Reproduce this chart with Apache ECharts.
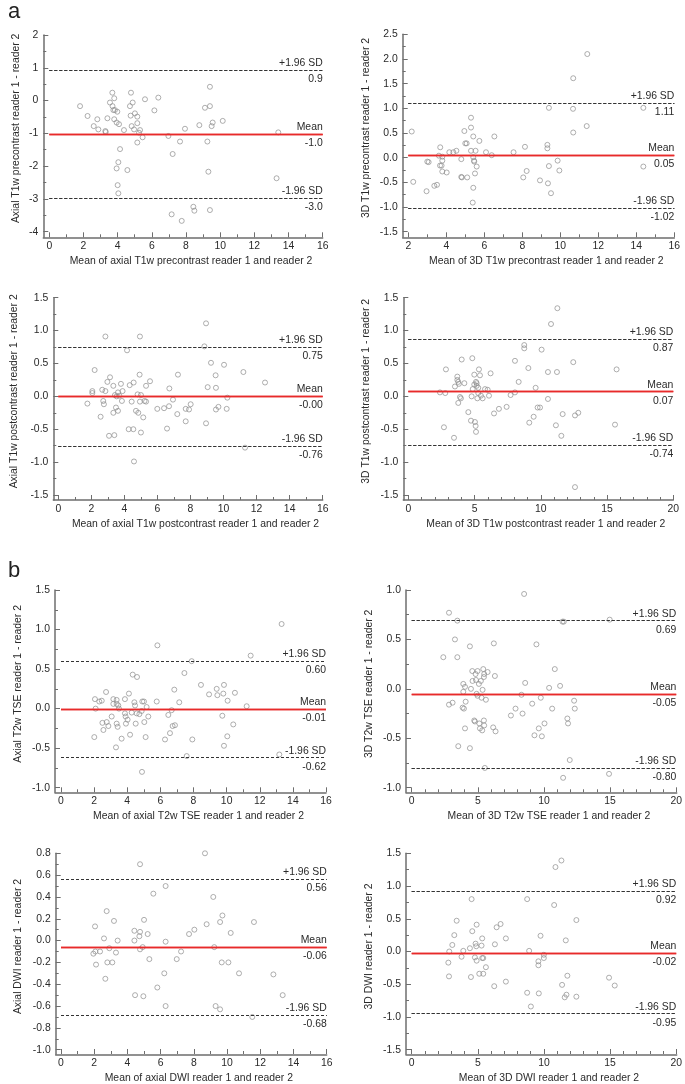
<!DOCTYPE html>
<html><head><meta charset="utf-8">
<script src="https://cdn.jsdelivr.net/npm/echarts@6/dist/echarts.min.js"></script>
<style>html,body{margin:0;padding:0;background:#fff}#c{width:685px;height:1084px}</style>
</head><body><div id="c"></div>
<script>
// ---------- DATA ----------
const p1Points = [[1.8,-0.17],[2.24,-0.47],[2.6,-0.78],[2.81,-0.57],[2.87,-0.88],[3.28,-0.93],[3.3,-0.96],[3.4,-0.54],[3.55,-0.06],[3.69,0.24],[3.7,-0.17],[3.75,-0.29],[3.8,0.07],[3.84,-0.29],[3.98,-0.34],[3.8,-0.57],[3.94,-0.67],[4.08,-0.72],[4.37,-0.9],[4.14,-1.48],[4.04,-1.88],[3.94,-2.07],[4.0,-2.58],[4.04,-2.83],[4.57,-2.12],[4.78,0.24],[4.88,-0.06],[4.72,-0.17],[4.76,-0.46],[5.01,-0.39],[5.15,-0.49],[4.82,-0.78],[4.96,-0.88],[5.15,-0.69],[5.25,-0.98],[5.31,-0.9],[5.15,-1.28],[5.46,-1.12],[5.6,0.04],[6.15,-0.3],[6.38,0.09],[6.97,-1.08],[7.16,-3.47],[7.22,-1.63],[7.65,-1.25],[7.75,-3.67],[7.94,-0.86],[8.43,-3.24],[8.49,-3.36],[8.78,-0.75],[9.11,-0.22],[9.4,-0.17],[9.4,0.42],[9.25,-1.25],[9.31,-2.17],[9.4,-3.34],[9.5,-0.78],[9.56,-0.67],[10.15,-0.62],[13.3,-2.37],[13.4,-0.97]];
const p2Points = [[2.18,0.53],[2.26,-0.49],[3.0,-0.08],[3.07,-0.09],[2.96,-0.68],[3.37,-0.57],[3.51,-0.55],[3.61,0.04],[3.68,0.21],[3.67,-0.16],[3.75,-0.16],[3.79,-0.06],[3.79,0.02],[3.79,-0.28],[4.02,-0.3],[4.16,0.11],[4.37,0.11],[4.53,0.14],[4.79,-0.03],[4.79,-0.39],[4.82,-0.4],[4.95,0.54],[5.0,0.29],[5.07,0.29],[5.1,-0.4],[5.3,0.81],[5.3,0.61],[5.3,0.14],[5.39,-0.91],[5.42,0.43],[5.42,0.01],[5.46,-0.06],[5.47,-0.08],[5.42,-0.61],[5.51,-0.32],[5.54,0.14],[5.6,-0.18],[5.74,0.34],[6.09,0.11],[6.39,0.05],[6.53,0.43],[7.54,0.11],[8.14,0.22],[8.05,-0.4],[8.23,-0.27],[8.93,-0.46],[9.32,0.26],[9.32,0.19],[9.35,-0.52],[9.4,1.01],[9.4,-0.17],[9.51,-0.72],[9.86,-0.06],[9.95,-0.26],[10.68,1.61],[10.67,0.99],[10.68,0.51],[11.39,0.64],[11.42,2.1],[14.37,1.01],[14.37,-0.18]];
const p3Points = [[1.76,-0.11],[2.06,0.08],[2.06,0.05],[2.2,0.4],[2.56,-0.31],[2.66,0.1],[2.72,-0.07],[2.76,-0.12],[2.85,0.08],[2.85,0.91],[2.97,0.22],[3.13,0.29],[3.07,-0.6],[3.33,0.16],[3.33,-0.25],[3.39,-0.59],[3.43,0.02],[3.49,-0.17],[3.53,0.0],[3.61,0.06],[3.61,-0.22],[3.69,0.01],[3.79,0.19],[3.85,-0.07],[3.89,0.08],[4.16,0.7],[4.26,-0.5],[4.32,0.17],[4.44,-0.08],[4.54,-0.5],[4.56,0.21],[4.58,-0.99],[4.7,-0.22],[4.8,0.03],[4.84,-0.25],[4.92,0.33],[4.94,0.91],[4.94,-0.08],[5.0,0.02],[5.0,-0.55],[5.14,-0.32],[5.22,-0.07],[5.31,-0.08],[5.31,0.16],[5.55,0.23],[5.99,-0.19],[6.4,-0.18],[6.58,-0.49],[6.7,-0.15],[6.72,0.12],[6.94,-0.05],[7.2,-0.27],[7.24,0.33],[7.71,-0.38],[7.71,-0.19],[7.91,-0.2],[8.01,-0.12],[8.84,0.76],[8.94,1.11],[8.94,-0.41],[9.04,0.14],[9.24,0.51],[9.52,0.32],[9.54,0.13],[9.54,-0.2],[9.69,-0.16],[10.03,0.48],[10.23,-0.02],[10.19,-0.19],[11.2,0.37],[11.3,-0.78],[12.51,0.21]];
const p4Points = [[2.39,0.06],[2.69,-0.47],[2.79,0.05],[2.84,0.41],[3.45,-0.63],[3.52,0.15],[3.7,0.3],[3.7,0.25],[3.77,0.22],[3.82,0.19],[3.77,-0.1],[3.9,-0.01],[3.97,-0.03],[4.03,0.56],[4.23,0.2],[4.53,-0.24],[4.73,-0.37],[4.78,0.0],[4.83,0.58],[4.86,0.11],[4.98,0.33],[4.98,0.18],[5.03,-0.39],[5.08,-0.45],[5.11,-0.54],[5.11,0.22],[5.16,0.2],[5.16,0.16],[5.21,-0.03],[5.28,0.05],[5.28,0.13],[5.33,0.41],[5.41,0.32],[5.48,0.01],[5.61,-0.03],[5.79,0.11],[5.99,0.1],[6.09,0.01],[6.21,0.35],[6.47,-0.26],[6.84,-0.19],[7.42,-0.16],[7.72,0.02],[8.05,0.54],[8.05,0.06],[8.33,0.22],[8.75,0.78],[8.75,0.73],[9.06,0.43],[9.13,-0.4],[9.46,-0.31],[9.61,0.13],[9.76,-0.17],[9.94,-0.17],[10.06,0.71],[10.54,-0.04],[10.54,0.37],[10.77,1.1],[11.14,-0.44],[11.22,0.37],[11.25,1.34],[11.55,-0.6],[11.65,-0.27],[12.45,0.52],[12.58,-0.29],[12.58,-1.38],[12.83,-0.25],[15.6,-0.43],[15.72,0.41]];
const p5Points = [[2.01,-0.36],[2.05,0.12],[2.09,0.0],[2.31,0.09],[2.46,0.1],[2.5,-0.18],[2.56,-0.27],[2.72,0.21],[2.76,-0.17],[2.86,-0.22],[3.06,-0.1],[3.16,0.12],[3.16,0.06],[3.32,-0.49],[3.36,0.11],[3.36,0.06],[3.36,-0.19],[3.42,-0.23],[3.46,0.04],[3.5,0.0],[3.66,-0.38],[3.86,0.12],[3.86,-0.06],[3.9,-0.1],[3.92,-0.19],[4.02,-0.14],[4.1,0.19],[4.17,-0.33],[4.27,-0.05],[4.33,0.43],[4.43,0.08],[4.47,0.04],[4.51,-0.19],[4.59,0.4],[4.57,-0.06],[4.73,-0.07],[4.87,-0.03],[4.89,-0.8],[4.91,0.09],[5.01,0.09],[5.03,-0.17],[5.11,-0.36],[5.17,0.02],[5.27,-0.1],[5.78,0.09],[5.82,0.8],[6.28,-0.39],[6.48,-0.08],[6.58,-0.31],[6.68,-0.02],[6.74,-0.22],[6.84,0.24],[6.88,-0.21],[7.14,0.08],[7.45,0.45],[7.59,-0.6],[7.89,0.6],[7.93,-0.39],[8.45,0.3],[8.94,0.18],[9.4,0.25],[9.44,0.17],[9.74,-0.09],[9.84,0.3],[9.8,0.19],[9.84,-0.47],[10.06,0.1],[10.04,-0.35],[10.4,-0.2],[10.5,0.2],[11.21,0.03],[11.45,0.67],[13.18,-0.58],[13.32,1.07]];
const p6Points = [[2.39,0.32],[2.82,0.77],[2.82,-0.16],[3.09,-0.14],[3.27,0.5],[3.45,0.32],[3.45,0.69],[3.52,-0.58],[3.85,-0.19],[3.9,-0.03],[3.9,0.05],[3.95,-0.2],[4.03,0.02],[4.08,-0.13],[4.03,-0.4],[4.4,0.43],[4.4,-0.6],[4.48,0.0],[4.58,0.18],[4.6,0.08],[4.73,-0.32],[4.78,-0.33],[4.83,0.15],[4.86,0.09],[4.91,-0.05],[4.98,0.18],[4.98,-0.07],[5.08,0.05],[5.11,-0.35],[5.16,-0.4],[5.23,0.08],[5.28,-0.09],[5.33,-0.42],[5.36,-0.01],[5.41,0.2],[5.46,0.12],[5.46,-0.32],[5.48,-0.37],[5.48,0.15],[5.53,-0.8],[5.61,-0.11],[5.74,0.17],[6.16,-0.39],[6.21,0.46],[6.29,0.13],[6.34,-0.43],[7.5,-0.27],[7.85,-0.2],[8.3,-0.06],[8.38,-0.25],[8.5,0.96],[8.58,0.06],[9.11,-0.15],[9.28,-0.47],[9.43,0.45],[9.61,-0.4],[9.76,-0.09],[9.84,-0.48],[10.04,-0.35],[10.39,0.01],[10.62,-0.2],[10.82,0.2],[11.22,0.03],[11.4,0.68],[11.5,0.68],[11.45,-0.9],[11.77,-0.3],[11.82,-0.35],[11.95,-0.72],[12.28,-0.12],[12.33,-0.2],[14.92,-0.86],[14.97,0.7]];
const p7Points = [[2.05,0.13],[1.95,-0.12],[2.07,-0.1],[2.11,-0.22],[2.35,-0.1],[2.59,0.02],[2.67,-0.35],[2.75,0.27],[2.79,-0.2],[2.91,-0.07],[3.09,-0.2],[3.19,0.18],[3.31,-0.11],[3.41,0.0],[4.42,0.09],[4.42,0.0],[4.46,-0.5],[4.72,0.04],[4.76,0.7],[4.76,0.08],[4.76,-0.08],[4.92,-0.06],[5.0,0.19],[4.96,-0.51],[5.22,0.06],[5.32,-0.17],[5.56,0.43],[5.8,-0.43],[6.22,-0.3],[6.3,0.5],[6.3,-0.01],[6.3,-0.6],[6.97,-0.17],[7.23,-0.1],[7.71,0.06],[8.03,0.1],[8.67,0.8],[8.77,0.15],[9.17,0.4],[9.23,-0.06],[9.31,-0.6],[9.58,-0.63],[9.58,0.17],[9.72,0.23],[9.68,-0.2],[10.08,-0.2],[10.22,0.07],[10.72,-0.3],[11.52,-0.7],[11.62,0.17],[12.79,-0.31],[13.35,-0.5]];
const p8Points = [[2.77,-0.17],[2.82,-0.38],[2.84,0.0],[3.07,0.1],[3.22,0.25],[3.4,0.47],[3.77,-0.08],[3.9,0.01],[4.4,0.05],[4.48,-0.39],[4.53,0.8],[4.58,0.31],[4.78,-0.09],[4.83,0.12],[4.88,0.08],[4.91,0.41],[4.91,-0.14],[5.11,-0.34],[5.28,0.09],[5.33,0.2],[5.33,-0.1],[5.41,-0.1],[5.41,-0.34],[5.61,-0.24],[6.24,-0.53],[6.29,0.11],[6.42,0.37],[6.72,0.42],[7.12,0.2],[7.12,-0.46],[8.73,0.8],[8.73,-0.63],[8.88,0.01],[9.01,-0.84],[9.58,-0.15],[9.58,-0.21],[9.61,-0.64],[9.74,0.24],[9.99,-0.05],[9.99,-0.1],[10.77,0.71],[10.87,1.29],[11.32,1.39],[11.37,-0.51],[11.57,-0.7],[11.7,-0.66],[11.65,0.17],[11.77,-0.37],[12.45,0.48],[12.45,-0.69],[14.92,-0.4],[15.35,-0.52]];

// limits of agreement: [upper, mean, lower] and their printed labels
const p1Limits = [0.94, -1.02, -2.98]; const p1LimitLabels = ['0.9', '-1.0', '-3.0'];
const p2Limits = [1.11, 0.05, -1.02];  const p2LimitLabels = ['1.11', '0.05', '-1.02'];
const p3Limits = [0.75, -0.004, -0.76]; const p3LimitLabels = ['0.75', '-0.00', '-0.76'];
const p4Limits = [0.87, 0.07, -0.74];  const p4LimitLabels = ['0.87', '0.07', '-0.74'];
const p5Limits = [0.60, -0.01, -0.62]; const p5LimitLabels = ['0.60', '-0.01', '-0.62'];
const p6Limits = [0.69, -0.05, -0.80]; const p6LimitLabels = ['0.69', '-0.05', '-0.80'];
const p7Limits = [0.56, -0.06, -0.68]; const p7LimitLabels = ['0.56', '-0.06', '-0.68'];
const p8Limits = [0.92, -0.02, -0.95]; const p8LimitLabels = ['0.92', '-0.02', '-0.95'];
const limitNames = ['+1.96 SD', 'Mean', '-1.96 SD'];

const xNames = ['Mean of axial T1w precontrast reader 1 and reader 2','Mean of 3D T1w precontrast reader 1 and reader 2',
  'Mean of axial T1w postcontrast reader 1 and reader 2','Mean of 3D T1w postcontrast reader 1 and reader 2',
  'Mean of axial T2w TSE reader 1 and reader 2','Mean of 3D T2w TSE reader 1 and reader 2',
  'Mean of axial DWI reader 1 and reader 2','Mean of 3D DWI reader 1 and reader 2'];
const yNames = ['Axial T1w precontrast reader 1 - reader 2','3D T1w precontrast reader 1 - reader 2',
  'Axial T1w postcontrast reader 1 - reader 2','3D T1w postcontrast reader 1 - reader 2',
  'Axial T2w TSE reader 1 - reader 2','3D T2w TSE reader 1 - reader 2',
  'Axial DWI reader 1 - reader 2','3D DWI reader 1 - reader 2'];
// axis ranges: [min, max, interval, minorSplit, decimals]
const xRanges = [[0,16,2,2,0],[2,16,2,2,0],[0,16,2,2,0],[0,20,5,5,0],[0,16,2,2,0],[0,20,5,5,0],[0,16,2,2,0],[0,20,5,5,0]];
const yRanges = [[-4,2,1,2,0],[-1.5,2.5,0.5,2,1],[-1.5,1.5,0.5,2,1],[-1.5,1.5,0.5,2,1],[-1,1.5,0.5,2,1],[-1,1,0.5,2,1],[-1,0.8,0.2,2,1],[-1.5,1.5,0.5,2,1]];

// ---------- LAYOUT (pixels) ----------
// [plotLeft, plotTop, plotRight, plotBottom, yAxisLineX, xAxisLineY]
const layout = [
  [49.3, 35, 322.7, 231.7, 43.3, 237.3],
  [408.3, 34.3, 674.3, 231.7, 402.7, 237.3],
  [58.3, 297.7, 322.7, 495, 53.3, 500],
  [408.3, 297.7, 673.3, 495, 403.3, 500],
  [61, 590, 326, 787.7, 55, 792.3],
  [411.7, 590, 676.7, 787.7, 406, 792.3],
  [61, 853.3, 326.7, 1050, 55.7, 1054.3],
  [411.7, 853.3, 676.7, 1050, 406, 1054.3]
];
const yNameGap = [22, 32, 34, 32, 32, 32, 33, 32];

const FONT = "'Liberation Sans', Arial, Helvetica, sans-serif";
const FS = 10.4;
const TXT = '#2a2a2a';
const AX = '#6e6e6e';
const PTS = '#8e8e8e';
const RED = '#e82a2a';

const pointsAll = [p1Points,p2Points,p3Points,p4Points,p5Points,p6Points,p7Points,p8Points];
const limitsAll = [p1Limits,p2Limits,p3Limits,p4Limits,p5Limits,p6Limits,p7Limits,p8Limits];
const limitLabelsAll = [p1LimitLabels,p2LimitLabels,p3LimitLabels,p4LimitLabels,p5LimitLabels,p6LimitLabels,p7LimitLabels,p8LimitLabels];

const grid = [], xAxis = [], yAxis = [], series = [];
const txt = {color: TXT, fontSize: FS, fontFamily: FONT};
const nameTxt = {color: TXT, fontSize: FS, fontFamily: FONT, padding: [0, 0, 0, 10]};

pointsAll.forEach((pts, i) => {
  const L = layout[i], xr = xRanges[i], yr = yRanges[i];
  const gi = 2 * i, hi = 2 * i + 1;
  grid.push({left: L[0], top: L[1], width: L[2] - L[0], height: L[3] - L[1]});
  grid.push({left: L[4], top: L[1], width: L[2] - L[4], height: L[5] - L[1]});
  // main axes (ticks, labels, names)
  xAxis.push({type: 'value', gridIndex: gi, position: 'bottom', min: xr[0], max: xr[1], interval: xr[2],
    offset: L[5] - L[3],
    axisLine: {show: false, onZero: false},
    axisTick: {show: true, inside: true, length: 5, lineStyle: {color: AX, width: 1}},
    minorTick: {show: true, splitNumber: xr[3], length: 3, lineStyle: {color: AX, width: 1}},
    splitLine: {show: false},
    axisLabel: Object.assign({margin: 4, showMinLabel: true, showMaxLabel: true, formatter: v => v.toFixed(xr[4])}, txt),
    name: xNames[i], nameLocation: 'middle', nameGap: 19, nameTextStyle: nameTxt});
  // helper axes (axis lines only, meeting at the corner)
  xAxis.push({type: 'value', gridIndex: hi, min: 0, max: 1,
    axisLine: {show: true, onZero: false, lineStyle: {color: AX, width: 1.5}},
    axisTick: {show: false}, axisLabel: {show: false}, splitLine: {show: false}});
  yAxis.push({type: 'value', gridIndex: gi, position: 'left', min: yr[0], max: yr[1], interval: yr[2],
    offset: L[0] - L[4],
    axisLine: {show: false, onZero: false},
    axisTick: {show: true, inside: true, length: 5, lineStyle: {color: AX, width: 1}},
    minorTick: {show: true, splitNumber: yr[3], length: 3, lineStyle: {color: AX, width: 1}},
    splitLine: {show: false},
    axisLabel: Object.assign({margin: 5, showMinLabel: true, showMaxLabel: true, formatter: v => v.toFixed(yr[4])}, txt),
    name: yNames[i], nameLocation: 'middle', nameGap: yNameGap[i], nameTextStyle: nameTxt});
  yAxis.push({type: 'value', gridIndex: hi, min: 0, max: 1,
    axisLine: {show: true, onZero: false, lineStyle: {color: AX, width: 1.5}},
    axisTick: {show: false}, axisLabel: {show: false}, splitLine: {show: false}});

  const lim = limitsAll[i], labs = limitLabelsAll[i];
  const mlData = [];
  lim.forEach((v, k) => {
    const ls = k === 1 ? {color: RED, width: 1.3, type: 'solid'} : {color: '#333', width: 1, type: [3, 2]};
    mlData.push({yAxis: v, lineStyle: ls,
      label: Object.assign({show: true, position: 'insideEndTop', distance: [0, 2], formatter: limitNames[k]}, txt)});
    mlData.push({yAxis: v, lineStyle: ls,
      label: Object.assign({show: true, position: 'insideEndBottom', distance: [0, 4], formatter: labs[k]}, txt)});
  });

  series.push({type: 'scatter', xAxisIndex: gi, yAxisIndex: gi, data: pts,
    symbol: 'circle', symbolSize: 5,
    itemStyle: {color: 'rgba(255,255,255,0)', borderColor: PTS, borderWidth: 0.9},
    silent: true,
    markLine: {symbol: ['none', 'none'], silent: true, animation: false, data: mlData}});
});

const chart = echarts.init(document.getElementById('c'), null, {renderer: 'canvas'});
chart.setOption({
  animation: false,
  backgroundColor: '#fff',
  title: [
    {text: 'a', left: 3, top: -4, textStyle: {fontSize: 22, fontWeight: 'normal', color: '#222', fontFamily: FONT}},
    {text: 'b', left: 3, top: 555, textStyle: {fontSize: 22, fontWeight: 'normal', color: '#222', fontFamily: FONT}}
  ],
  grid, xAxis, yAxis, series
});
</script></body></html>
